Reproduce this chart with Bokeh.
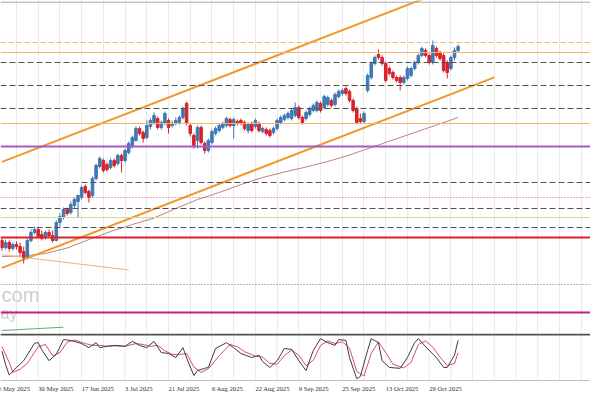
import pandas as pd
from bokeh.plotting import figure
from bokeh.layouts import column
from bokeh.models import Range1d, Span, FixedTicker, Grid
from bokeh.core.properties import value
from bokeh.embed import file_html
from bokeh.resources import INLINE

# ---------------- data ----------------
start_date = "2025-05-14"      # business-day index 0
first_bar = 2                  # first candle: 16 May 2025

opens = [23600, 23530, 23580, 23520, 23560, 23540, 23490, 23440, 23600, 23680,
         23710, 23660, 23630, 23680, 23650, 23600, 23780, 23840, 23910, 23880,
         23950, 23990, 24030, 24140, 24090, 24050, 24220, 24340, 24400, 24360,
         24330, 24400, 24370, 24450, 24400, 24480, 24540, 24600, 24720, 24680,
         24630, 24740, 24780, 24820, 24730, 24770, 24800, 24750, 24770, 24780,
         24830, 24970, 24750, 24650, 24600, 24730, 24570, 24500, 24580, 24670,
         24700, 24730, 24750, 24810, 24750, 24790, 24800, 24780, 24700, 24770,
         24740, 24770, 24690, 24710, 24700, 24680, 24720, 24780, 24810, 24830,
         24820, 24850, 24930, 24830, 24820, 24860, 24900, 24900, 24970, 24930,
         24960, 25000, 24960, 25040, 25070, 25120, 25090, 25000, 24920, 24820,
         24790, 25100, 25230, 25370, 25460, 25430, 25370, 25320, 25280, 25230,
         25230, 25180, 25220, 25250, 25320, 25380, 25450, 25500, 25450, 25380,
         25520, 25480, 25450, 25380, 25320, 25430, 25500]
highs = [23630, 23610, 23600, 23580, 23590, 23580, 23540, 23620, 23710, 23740,
         23730, 23700, 23700, 23710, 23700, 23800, 23870, 23930, 23930, 23990,
         24030, 24060, 24150, 24160, 24110, 24240, 24370, 24440, 24420, 24380,
         24420, 24420, 24470, 24470, 24520, 24590, 24650, 24740, 24740, 24700,
         24800, 24820, 24880, 24840, 24800, 24890, 24820, 24800, 24830, 24850,
         24940, 24990, 24770, 24670, 24750, 24750, 24590, 24620, 24710, 24740,
         24770, 24790, 24840, 24830, 24830, 24810, 24820, 24800, 24780, 24790,
         24820, 24790, 24740, 24730, 24720, 24740, 24820, 24850, 24870, 24890,
         24920, 24980, 24950, 24850, 24900, 24940, 24970, 25000, 24990, 25060,
         25050, 25020, 25080, 25110, 25120, 25140, 25110, 25020, 24940, 24870,
         24890, 25270, 25390, 25450, 25510, 25450, 25390, 25340, 25300, 25250,
         25250, 25250, 25340, 25340, 25400, 25470, 25540, 25520, 25470, 25600,
         25540, 25500, 25470, 25400, 25450, 25530, 25560]
lows = [23500, 23510, 23490, 23500, 23510, 23450, 23370, 23420, 23580, 23660,
        23620, 23600, 23610, 23630, 23580, 23590, 23740, 23810, 23850, 23860,
        23920, 23830, 24010, 24060, 23980, 24030, 24200, 24320, 24280, 24290,
        24310, 24330, 24350, 24280, 24380, 24460, 24520, 24590, 24650, 24580,
        24610, 24710, 24760, 24710, 24710, 24750, 24670, 24730, 24750, 24760,
        24810, 24750, 24640, 24520, 24520, 24560, 24470, 24480, 24560, 24650,
        24680, 24710, 24730, 24730, 24620, 24750, 24750, 24700, 24670, 24680,
        24720, 24680, 24670, 24650, 24630, 24660, 24700, 24760, 24790, 24810,
        24800, 24830, 24810, 24760, 24800, 24840, 24880, 24880, 24880, 24910,
        24940, 24930, 24940, 25020, 25050, 25050, 24980, 24880, 24760, 24770,
        24770, 25080, 25210, 25350, 25410, 25350, 25180, 25250, 25210, 25180,
        25100, 25160, 25200, 25230, 25300, 25360, 25430, 25430, 25360, 25360,
        25430, 25400, 25280, 25220, 25300, 25400, 25480]
closes = [23530, 23580, 23520, 23560, 23540, 23480, 23430, 23600, 23680, 23710,
          23640, 23620, 23680, 23650, 23600, 23780, 23840, 23910, 23870, 23960,
          24010, 24050, 24130, 24080, 24030, 24220, 24350, 24420, 24300, 24310,
          24400, 24350, 24450, 24400, 24500, 24570, 24630, 24720, 24670, 24620,
          24750, 24800, 24850, 24730, 24780, 24870, 24730, 24770, 24800, 24830,
          24920, 24770, 24670, 24550, 24730, 24580, 24500, 24600, 24690, 24720,
          24750, 24770, 24820, 24750, 24810, 24780, 24770, 24720, 24760, 24700,
          24800, 24700, 24720, 24670, 24650, 24720, 24800, 24830, 24850, 24870,
          24900, 24930, 24830, 24780, 24880, 24920, 24950, 24980, 24900, 25040,
          25030, 24950, 25060, 25090, 25100, 25070, 25000, 24900, 24780, 24790,
          24870, 25250, 25370, 25430, 25430, 25370, 25200, 25270, 25230, 25200,
          25180, 25230, 25320, 25320, 25380, 25450, 25520, 25450, 25380, 25550,
          25450, 25420, 25300, 25280, 25430, 25500, 25540]

tick_labels = ["14 May 2025", "30 May 2025", "17 Jun 2025", "3 Jul 2025", "21 Jul 2025",
               "6 Aug 2025", "22 Aug 2025", "9 Sep 2025", "25 Sep 2025", "13 Oct 2025",
               "29 Oct 2025"]

# horizontal levels (price)
levels_grey_dashed = [25380, 25150, 24920, 24180, 23920, 23730]
level_orange_dashed = 25580
levels_orange_thin = [25480, 24770]
level_purple = 24540
level_red_dotted = 24030
level_olive = 23830
level_red = 23630
level_grey_dotted = 23160
level_magenta = 22880
top_border = 25983

# trend channel / trend lines: (bar index, price)
channel_upper_x = [2, 118]
channel_upper_y = [24386, 26011]
channel_lower_x = [2, 138]
channel_lower_y = [23326, 25231]
thin_trend_x = [2, 37]
thin_trend_y = [23458, 23305]
green_x = [2, 19]
green_y = [22700, 22733]

# moving average sampled every 6 bars
ma_vals = [23440, 23445, 23470, 23525, 23610, 23690, 23760, 23825, 23920, 24010, 24080,
           24160, 24230, 24285, 24335, 24390, 24455, 24530, 24605, 24680, 24755, 24830]

# stochastic
k_x = [2, 3, 4, 6, 8, 11, 12, 13, 15, 17, 19, 21, 24, 26, 28, 29, 31, 33, 36, 38,
       40, 42, 44, 46, 48, 50, 52, 53, 55, 56, 58, 59, 61, 64, 66, 68, 71, 73, 74, 76,
       78, 80, 82, 84, 86, 88, 90, 92, 94, 95, 97, 98, 100, 101, 103, 104, 106, 107, 109, 112,
       114, 116, 117, 118, 120, 122, 124, 125, 127, 128]
k_vals = [65, 35, 12, 29, 44, 83, 84, 68, 44, 58, 91, 89, 82, 73, 84, 73, 76, 78, 76, 87,
          78, 73, 87, 62, 60, 51, 73, 50, 11, 22, 27, 29, 71, 84, 73, 60, 51, 56, 42, 29,
          44, 71, 69, 44, 22, 67, 93, 84, 78, 91, 89, 51, 4, 9, 67, 93, 84, 44, 29, 27,
          51, 84, 93, 84, 67, 51, 29, 29, 56, 89]
d_x = [2, 4, 5, 7, 9, 12, 14, 16, 18, 20, 22, 25, 27, 29, 31, 33, 36, 39, 41, 43,
       45, 47, 49, 51, 53, 55, 57, 59, 62, 65, 67, 69, 72, 74, 76, 78, 80, 82, 84, 86,
       88, 90, 92, 94, 96, 98, 100, 102, 104, 106, 108, 110, 113, 115, 117, 119, 121, 123, 125, 127,
       128]
d_vals = [75, 40, 18, 25, 38, 75, 80, 55, 62, 85, 90, 82, 78, 78, 76, 77, 76, 82, 80, 76,
          78, 66, 58, 58, 60, 30, 18, 26, 55, 80, 75, 64, 54, 52, 38, 36, 55, 68, 56, 33,
          45, 78, 88, 82, 86, 72, 20, 10, 60, 86, 62, 36, 28, 40, 80, 88, 74, 52, 33, 38,
          62]

assert len(opens) == len(highs) == len(lows) == len(closes)
assert len(k_x) == len(k_vals) and len(d_x) == len(d_vals)

# ---------------- derived ----------------
n = len(opens)
xs = [first_bar + i for i in range(n)]
bdays = list(pd.bdate_range(start_date, periods=200))
label_x = [bdays.index(pd.Timestamp(lbl)) for lbl in tick_labels]
grid_x = list(range(label_x[0], 170, 6))
ma_x = list(range(first_bar, first_bar + 6 * len(ma_vals), 6))

UP = "#3f78b4"
DOWN = "#d8232a"
up = [c >= o for o, c in zip(opens, closes)]
col = [UP if u else DOWN for u in up]
body_top = [max(o, c) for o, c in zip(opens, closes)]
body_bot = [min(o, c) for o, c in zip(opens, closes)]

X0, X1 = 1.586, 164.57
xr = Range1d(X0, X1)
W = 590

# ---------------- main panel ----------------
p = figure(width=W, height=333, x_range=xr, y_range=Range1d(22670, 26000),
           output_backend="svg", toolbar_location=None,
           x_axis_location=None, y_axis_location=None, min_border=0,
           outline_line_color=None, background_fill_color="white",
           border_fill_color="white")
p.xgrid.visible = False
p.ygrid.visible = False
p.add_layout(Grid(dimension=0, ticker=FixedTicker(ticks=grid_x),
                  grid_line_color="#e9e9e9", grid_line_width=1))

p.add_layout(Span(location=top_border, dimension="width", line_color="#a8a8a8", line_width=1))

for lv in levels_grey_dashed:
    p.add_layout(Span(location=lv, dimension="width", line_color="#505050",
                      line_width=1, line_dash="6 3"))
p.add_layout(Span(location=level_orange_dashed, dimension="width", line_color="#f2b66a",
                  line_width=1, line_dash="5 3"))
for lv in levels_orange_thin:
    p.add_layout(Span(location=lv, dimension="width", line_color="#f2b66a", line_width=1))
p.add_layout(Span(location=level_purple, dimension="width", line_color="#a45cc4", line_width=2))
p.add_layout(Span(location=level_red_dotted, dimension="width", line_color="#e05a5a",
                  line_width=1, line_dash="1 2"))
p.add_layout(Span(location=level_olive, dimension="width", line_color="#d9d49a", line_width=1))
p.add_layout(Span(location=level_red, dimension="width", line_color="#e0202a", line_width=2))
p.add_layout(Span(location=level_grey_dotted, dimension="width", line_color="#707070",
                  line_width=1, line_dash="1 2"))
p.add_layout(Span(location=level_magenta, dimension="width", line_color="#c8207a", line_width=2))

# watermark
p.text(x=[X0 + 0.3], y=[23055], text=["com"], text_font=value("Liberation Sans"),
       text_font_size="20px", text_color="#cfcfcf", text_align="left", text_baseline="middle")
p.text(x=[X0], y=[22870], text=["ay"], text_font=value("Liberation Sans"),
       text_font_size="16px", text_color="#cfcfcf", text_align="left", text_baseline="middle")

# lines
p.line(ma_x, ma_vals, line_color="#c08080", line_width=1)
p.line(thin_trend_x, thin_trend_y, line_color="#eeb07a", line_width=1)
p.line(green_x, green_y, line_color="#6aa86a", line_width=1)
p.line(channel_upper_x, channel_upper_y, line_color="#f0982a", line_width=2)
p.line(channel_lower_x, channel_lower_y, line_color="#f0982a", line_width=2)

# candles
p.segment(x0=xs, y0=lows, x1=xs, y1=highs, line_color=col, line_width=1)
p.vbar(x=xs, width=0.7, top=body_top, bottom=body_bot, fill_color=col, line_color=col)

# ---------------- stochastic panel ----------------
s = figure(width=W, height=60, x_range=xr, y_range=Range1d(-28.9, 104.4),
           output_backend="svg", toolbar_location=None,
           x_axis_location=None, y_axis_location=None, min_border=0,
           outline_line_color=None, background_fill_color="white",
           border_fill_color="white")
s.xgrid.visible = False
s.ygrid.visible = False
s.segment(x0=grid_x, y0=[0] * len(grid_x), x1=grid_x, y1=[102] * len(grid_x),
          line_color="#e9e9e9", line_width=1)
s.add_layout(Span(location=102.2, dimension="width", line_color="#505050", line_width=2))
s.add_layout(Span(location=0, dimension="width", line_color="#c0c0c0", line_width=1))

s.line(d_x, d_vals, line_color="#d4506a", line_width=1)
s.line(k_x, k_vals, line_color="#3c3c3c", line_width=1)

s.text(x=label_x, y=[-17.8] * len(label_x), text=tick_labels,
       text_font=value("Liberation Sans Narrow"), text_font_size="6.6px", text_color="#303030",
       text_align="left", text_baseline="middle")

layout = column(p, s, spacing=0)
open("out.html", "w").write(file_html(layout, INLINE))
